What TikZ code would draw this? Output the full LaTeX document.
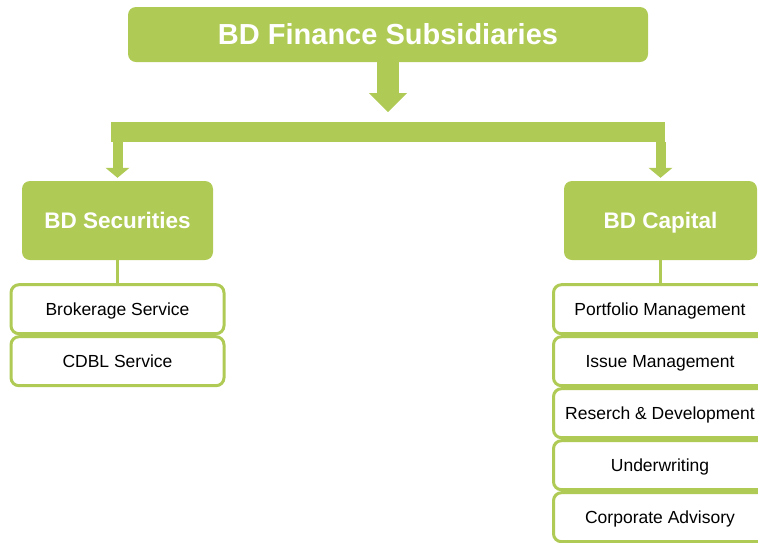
\documentclass[tikz,border=0pt]{standalone}
\usepackage{fontspec}
\setmainfont{Liberation Sans}
\usetikzlibrary{positioning,arrows.meta}
\definecolor{leaf}{RGB}{176,203,85}

\begin{document}
\begin{tikzpicture}[x=1pt,y=-1pt,
    head/.style={fill=leaf, text=white, font=\bfseries\fontsize{22.5}{26}\selectfont,
      text height=16.1pt, text depth=0pt,
      rounded corners=8pt, minimum width=191pt, minimum height=79pt, inner sep=0pt},
    sub/.style={draw=leaf, line width=3pt, fill=white, rounded corners=8pt,
      minimum width=213pt, minimum height=49pt, inner sep=0pt,
      text height=12.5pt, text depth=0pt,
      font=\fontsize{17.5}{21}\selectfont},
    link/.style={draw=leaf, line width=3pt},
    bigarrow/.style={draw=leaf, line width=22pt, -{Triangle[width=38pt,length=19pt,line width=0pt]}},
    smallarrow/.style={draw=leaf, line width=10pt, -{Triangle[width=24pt,length=10pt,line width=0pt]}}]
  \useasboundingbox (0,0) rectangle (758,542);
  % top and the two subsidiaries
  \node[head, font=\bfseries\fontsize{29}{33}\selectfont, text height=20.8pt, minimum width=520pt, minimum height=55pt] (top) at (388,34.5) {BD Finance Subsidiaries};
  \node[fill=leaf, minimum width=554pt, minimum height=20pt, inner sep=0pt, outer sep=0pt] (bar) at (388,132) {};
  \node[head] (sec) at (117.5,220.5) {BD Securities};
  \node[head, minimum width=193pt] (cap) at (660.5,220.5) {BD Capital};
  % services
  \node[sub, below=23pt of sec.south, anchor=north] (s1) {Brokerage Service};
  \node[sub, below=0pt of s1] (s2) {CDBL Service};
  \node[sub, below=23pt of cap.south, anchor=north, xshift=-0.5pt] (c1) {Portfolio Management};
  \node[sub, below=0pt of c1] (c2) {Issue Management};
  \node[sub, below=0pt of c2] (c3) {Reserch \& Development};
  \node[sub, below=0pt of c3] (c4) {Underwriting};
  \node[sub, below=0pt of c4] (c5) {Corporate Advisory};
  % arrows
  \draw[bigarrow, shorten >=10pt] (top.south) -- (top.south |- bar.north);
  \draw[smallarrow, shorten >=3pt] (bar.south -| sec.north) -- (sec.north);
  \draw[smallarrow, shorten >=3pt] (bar.south -| cap.north) -- (cap.north);
  \draw[link] (sec.south) -- (s1.north -| sec.south);
  \draw[link] (cap.south) -- (c1.north -| cap.south);
\end{tikzpicture}
\end{document}
